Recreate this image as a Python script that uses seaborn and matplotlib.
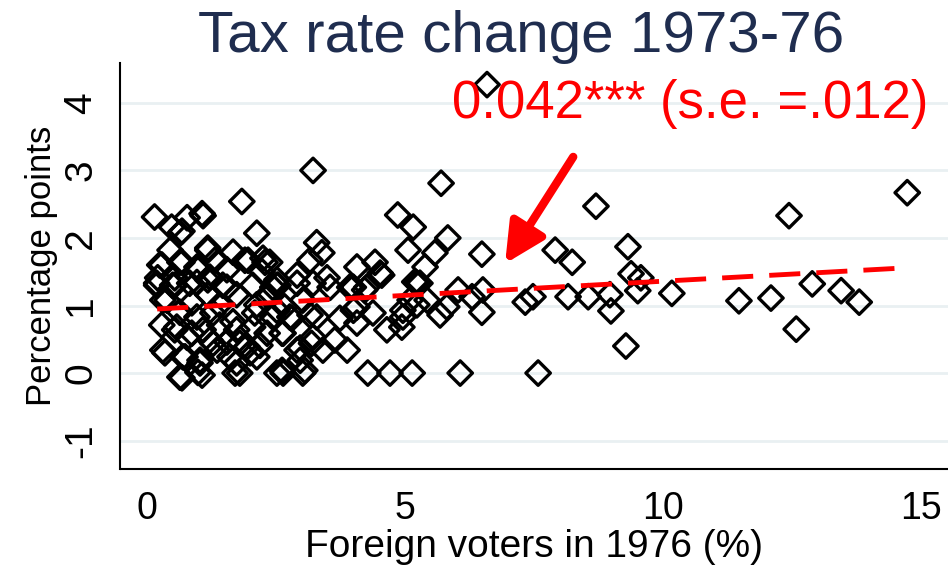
import matplotlib
matplotlib.use("Agg")
import matplotlib.pyplot as plt
import seaborn as sns

# foreign voter share (%) and tax rate change (percentage points)
foreign_share = [
    6.59, 3.22, 5.70, 1.84, 8.70, 14.73, 12.44, 9.32, 9.38, 9.57, 9.51, 8.97, 8.99, 9.28,
    10.17, 11.47, 12.09, 12.58, 12.89, 13.45, 13.80, 7.91, 8.24, 7.33, 7.48, 8.16, 8.55,
    7.58, 6.07, 6.49, 6.03, 6.30, 6.51, 6.49, 5.83, 5.58, 5.39, 5.29, 5.43, 5.81, 5.68,
    4.86, 5.16, 5.06, 5.23, 5.10, 5.23, 4.96, 4.94, 4.65, 4.28, 4.71, 5.14,
    3.29, 3.39, 3.16, 2.91, 2.52, 2.38, 3.22, 3.49, 4.07, 4.42, 4.55, 3.93, 4.26, 3.02,
    3.29, 2.77, 2.52, 2.64, 3.74, 4.07, 4.38, 3.22, 3.64, 3.88, 2.91, 3.41, 4.07, 2.64,
    3.02, 4.52, 3.55, 4.00, 4.22, 5.19, 4.00, 4.96,
    0.15, 0.78, 1.09, 0.48, 0.64, 2.13, 0.45, 1.18, 1.67, 1.90, 2.29, 0.25, 0.68, 1.32,
    0.99, 2.23, 0.19, 0.54, 1.18, 1.47, 2.05, 2.44, 1.74, 1.18, 0.39, 0.87, 1.41, 2.13,
    0.29, 0.54, 1.09, 1.41, 1.74, 2.05, 2.33, 0.78, 1.28, 0.35, 0.74, 1.03, 1.36, 1.61,
    1.94, 2.13, 1.74, 0.68, 1.07, 1.71, 1.80, 2.52,
    1.55, 2.54, 2.91, 2.35, 2.67, 2.09, 2.44, 2.81, 3.16, 1.67, 2.62, 1.55, 1.80, 2.19,
    2.97, 3.19, 2.00, 2.97, 2.62, 3.06, 1.96, 2.25, 2.52, 1.55,
    1.07, 0.68, 1.18, 0.29, 0.64, 0.97, 0.21, 0.54, 1.22, 0.97, 0.19, 0.50, 0.83,
    0.31, 0.64, 0.58, 0.97, 1.28, 0.87, 1.22, 0.31, 0.70, 1.03, 0.64, 0.99,
]
tax_change = [
    4.27, 3.00, 2.81, 2.54, 2.47, 2.67, 2.33, 1.87, 1.47, 1.41, 1.22, 1.16, 0.92, 0.40,
    1.18, 1.07, 1.11, 0.65, 1.32, 1.22, 1.05, 1.82, 1.64, 1.05, 1.13, 1.13, 1.13,
    0.00, 0.00, 1.76, 1.23, 1.13, 1.23, 0.90, 2.00, 1.78, 1.57, 1.33, 1.08, 0.98, 0.86,
    2.34, 2.16, 1.82, 1.33, 1.08, 1.01, 0.93, 0.68, 0.64, 0.00, 0.00, 0.00,
    1.93, 1.78, 1.67, 1.45, 1.30, 1.64, 1.33, 1.41, 1.57, 1.64, 1.45, 1.27, 1.27, 1.08,
    0.83, 0.83, 0.93, 0.59, 0.81, 0.98, 0.89, 0.53, 0.49, 0.34, 0.34, 0.34, 0.74, 0.00,
    0.00, 1.48, 1.27, 1.27, 1.23, 1.35, 0.93, 0.83,
    2.31, 2.30, 2.33, 2.16, 2.07, 2.07, 1.82, 1.82, 1.79, 1.67, 1.64, 1.60, 1.64, 1.67,
    1.53, 1.50, 1.30, 1.30, 1.38, 1.30, 1.30, 1.27, 1.16, 1.16, 1.08, 1.04, 1.01, 1.01,
    0.71, 0.64, 0.64, 0.71, 0.64, 0.68, 0.59, 0.53, 0.44, 0.30, 0.24, 0.15, 0.34, 0.24,
    0.39, 0.24, 0.15, -0.07, -0.03, 0.00, 0.00, 0.00,
    1.27, 1.30, 1.33, 1.13, 0.98, 0.89, 0.83, 0.81, 0.86, 0.76, 0.59, 0.46, 0.44, 0.41,
    0.37, 0.44, 0.30, 0.19, 0.04, 0.04, 1.67, 1.70, 1.38, 1.53,
    2.36, 2.10, 1.85, 1.60, 1.64, 1.57, 1.41, 1.41, 1.42, 1.34, 1.33, 1.30, 1.33,
    1.08, 0.90, 0.68, 0.83, 0.89, 0.59, 0.49, 0.34, 0.24, 0.19, -0.06, 0.01,
]

# fitted line
fit_intercept = 0.94
fit_slope = 0.042
fit_range = [0.2, 14.73]
fit_label = "0.042*** (s.e. =.012)"

x_ticks = [0, 5, 10, 15]
y_ticks = [-1, 0, 1, 2, 3, 4]

sns.set_theme(style="white")
plt.rcParams["font.family"] = ["Liberation Sans", "DejaVu Sans"]
plt.rcParams["axes.unicode_minus"] = False
plt.rcParams["text.color"] = "black"
plt.rcParams["axes.labelcolor"] = "black"
plt.rcParams["xtick.color"] = "black"
plt.rcParams["ytick.color"] = "black"

fig = plt.figure(figsize=(9.48, 5.65), dpi=100)
ax = fig.add_axes([120 / 948, 96 / 565, 828 / 948, 406 / 565])

for yt in y_ticks:
    ax.axhline(yt, color="#e9f0f2", lw=2, zorder=0)

sns.scatterplot(
    x=foreign_share, y=tax_change, ax=ax, marker="D", s=155,
    facecolors="none", edgecolors="black", linewidths=2.4, zorder=3,
)

fit_y = [fit_intercept + fit_slope * v for v in fit_range]
ax.plot(fit_range, fit_y, color="#ff0000", lw=3.5, dashes=(6.4, 3.3), zorder=4)

ax.annotate(
    "", xy=(6.94, 1.62), xytext=(8.26, 3.2),
    arrowprops=dict(arrowstyle="-|>,head_length=1.2,head_width=0.6",
                    color="#ff0000", lw=6, mutation_scale=20, shrinkA=0, shrinkB=0),
    zorder=5,
)
ax.text(10.52, 3.98, fit_label, color="#ff0000", fontsize=38, ha="center", va="center", zorder=6)

ax.set_xlim(-0.52, 15.52)
ax.set_ylim(-1.42, 4.59)
ax.set_xticks(x_ticks)
ax.set_yticks(y_ticks)
ax.tick_params(axis="x", direction="out", length=9, width=1.5, pad=3, labelsize=27,
               color="black", labelcolor="black")
ax.tick_params(axis="y", direction="out", length=11, width=1.5, pad=4, labelsize=28,
               color="black", labelcolor="black", labelrotation=90)
for lab in ax.get_yticklabels():
    lab.set_va("center")

ax.spines["top"].set_visible(False)
ax.spines["right"].set_visible(False)
ax.spines["left"].set_color("black")
ax.spines["left"].set_linewidth(1.5)
ax.spines["bottom"].set_position(("outward", 4))
ax.spines["bottom"].set_visible(False)
ax.axhline(-1.42, color="black", lw=1.5, clip_on=False, zorder=2)

ax.set_xlabel("Foreign voters in 1976 (%)", fontsize=28, labelpad=1, color="black")
ax.set_ylabel("Percentage points", fontsize=25, labelpad=4, color="black")

fig.suptitle("Tax rate change 1973-76", x=0.55, y=0.983, fontsize=42, color="#1f2d4f", va="top")

fig.savefig("out.png", dpi=100)
